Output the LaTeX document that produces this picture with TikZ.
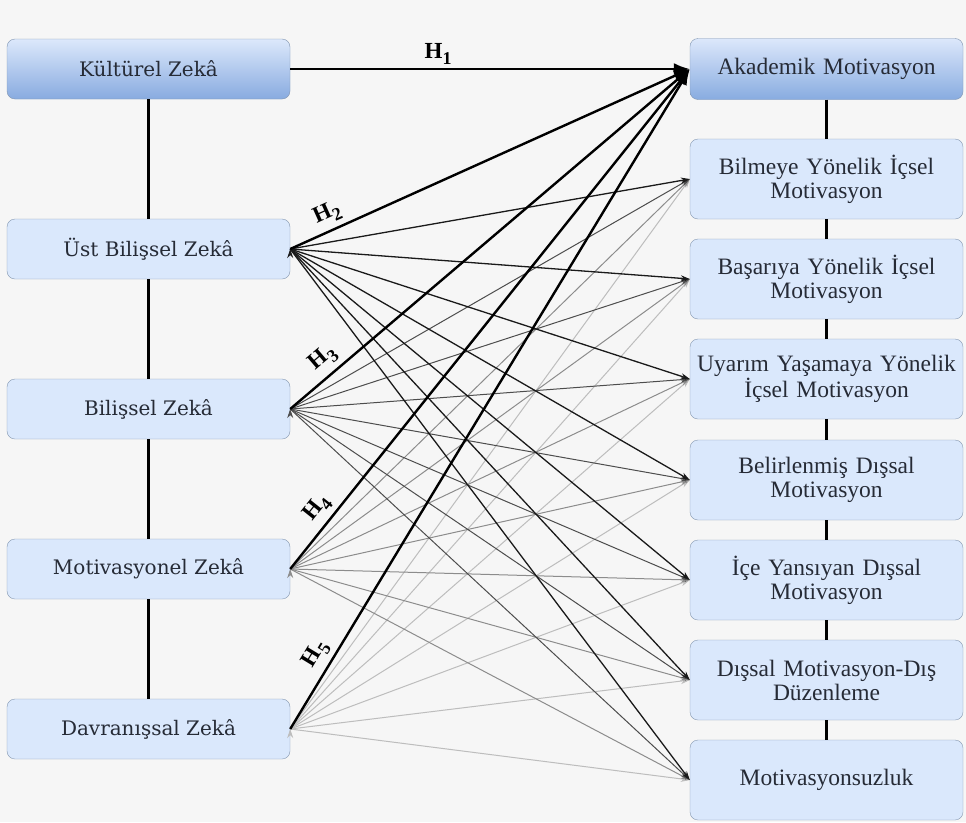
\documentclass[tikz,border=0pt]{standalone}
\usepackage{fontspec}
\setmainfont{Liberation Serif}
\newfontfamily\slabfont{DejaVu Serif}
\usetikzlibrary{arrows.meta}
\definecolor{bg}{HTML}{F6F6F6}
\definecolor{boxfill}{HTML}{DAE8FC}
\definecolor{boxline}{HTML}{8497B0}
\definecolor{shadetop}{HTML}{DCE8FB}
\definecolor{shadebot}{HTML}{88ABE0}
\definecolor{txt}{HTML}{262B36}
\definecolor{gA}{HTML}{1A1A1A}
\definecolor{gB}{HTML}{4D4D4D}
\definecolor{gC}{HTML}{8C8C8C}
\definecolor{gD}{HTML}{BDBDBD}
\newcommand{\hlab}[1]{\fontsize{23}{23}\selectfont\bfseries H\raisebox{-6pt}{\fontsize{18}{18}\selectfont #1}}

\begin{document}
\begin{tikzpicture}[
  x=1pt, y=-1pt,
  lbox/.style={rectangle, rounded corners=8pt, draw=boxline, fill=boxfill, minimum width=283pt, minimum height=60pt, inner sep=0pt, text=txt, font=\slabfont\fontsize{20}{22}\selectfont},
  rbox/.style={rectangle, rounded corners=8pt, draw=boxline, fill=boxfill, minimum width=273pt, minimum height=80pt, inner sep=0pt, text width=268pt, align=center, text=txt, font=\fontsize{23.5}{24}\selectfont},
  headbox/.style={top color=shadetop, bottom color=shadebot},
  vline/.style={line width=2.4pt, black},
  link/.style={line width=1pt, -{Stealth[length=9pt,width=6pt]}},
  hyp/.style={line width=2.4pt, black, -{Latex[length=16pt,width=12pt]}},
  hl/.style={sloped, above=5pt, inner sep=0pt},
]
  \fill[bg] (0,0) rectangle (966,822);

  % zeka boyutlari
  \node[lbox, headbox] (kul) at (148.5,69) {Kültürel Zekâ};
  \node[lbox] (ust) at (148.5,249) {Üst Bilişsel Zekâ};
  \node[lbox] (bil) at (148.5,409) {Bilişsel Zekâ};
  \node[lbox] (mot) at (148.5,569) {Motivasyonel Zekâ};
  \node[lbox] (dav) at (148.5,729) {Davranışsal Zekâ};

  % motivasyon boyutlari
  \node[rbox, headbox, minimum height=61pt] (akd) at (826.5,69) {Akademik Motivasyon};
  \node[rbox] (bilm) at (826.5,179) {Bilmeye Yönelik İçsel\\Motivasyon};
  \node[rbox] (bas) at (826.5,279) {Başarıya Yönelik İçsel\\Motivasyon};
  \node[rbox] (uya) at (826.5,379) {Uyarım Yaşamaya Yönelik\\İçsel Motivasyon};
  \node[rbox] (bel) at (826.5,480) {Belirlenmiş Dışsal\\Motivasyon};
  \node[rbox] (ice) at (826.5,580) {İçe Yansıyan Dışsal\\Motivasyon};
  \node[rbox] (dis) at (826.5,680) {Dışsal Motivasyon-Dış\\Düzenleme};
  \node[rbox] (mzs) at (826.5,780) {Motivasyonsuzluk};

  \draw[vline] (kul) -- (ust);
  \draw[vline] (ust) -- (bil);
  \draw[vline] (bil) -- (mot);
  \draw[vline] (mot) -- (dav);
  \draw[vline] (akd) -- (bilm);
  \draw[vline] (bilm) -- (bas);
  \draw[vline] (bas) -- (uya);
  \draw[vline] (uya) -- (bel);
  \draw[vline] (bel) -- (ice);
  \draw[vline] (ice) -- (dis);
  \draw[vline] (dis) -- (mzs);

  \draw[link, draw=gD] (dav.east) edge (bilm.west) edge (bas.west) edge (uya.west) edge (bel.west) edge (ice.west) edge (dis.west) edge (mzs.west);
  \draw[link, draw=gC] (mot.east) edge (bilm.west) edge (bas.west) edge (uya.west) edge (bel.west) edge (ice.west) edge (dis.west) edge (mzs.west);
  \draw[link, draw=gB] (bil.east) edge (bilm.west) edge (bas.west) edge (uya.west) edge (bel.west) edge (ice.west) edge (dis.west) edge (mzs.west);
  \draw[link, draw=gA, line width=1.3pt] (ust.east) edge (bilm.west) edge (bas.west) edge (uya.west) edge (bel.west) edge (ice.west) edge (dis.west) edge (mzs.west);

  \draw[hyp] (kul.east) -- node[pos=0.37, above=3pt, inner sep=0pt] {\hlab{1}} (akd.west);
  \draw[hyp] (ust.east) -- node[hl, pos=0.11] {\hlab{2}} (akd.west);
  \draw[hyp] (bil.east) -- node[hl, pos=0.11] {\hlab{3}} (akd.west);
  \draw[hyp] (mot.east) -- node[hl, pos=0.1] {\hlab{4}} (akd.west);
  \draw[hyp] (dav.east) -- node[hl, pos=0.1] {\hlab{5}} (akd.west);
\end{tikzpicture}
\end{document}
